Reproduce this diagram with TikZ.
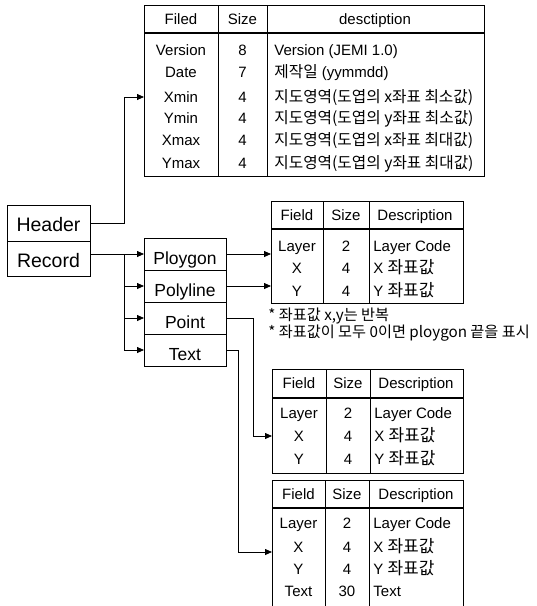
\documentclass[tikz,border=0pt]{standalone}
\usepackage{fontspec}
\setmainfont{Liberation Sans}
\newfontfamily\kr{Noto Sans CJK KR}
\usetikzlibrary{arrows.meta,calc}
\newcommand{\krA}{\kr\fontsize{15.7}{17}\selectfont}
\newcommand{\krB}{\kr\fontsize{17}{19}\selectfont}
\begin{document}
\begin{tikzpicture}[x=1pt,y=-1pt,
  line width=0.8pt,
  frame/.style={draw, inner sep=0pt, outer sep=0pt, anchor=north west},
  box/.style={draw, inner sep=0pt, outer sep=0pt},
  bigbox/.style={box, font=\fontsize{19.5}{22}\selectfont, text height=21pt, text depth=4pt},
  kindbox/.style={box, font=\fontsize{17.5}{19}\selectfont, text height=24.5pt, text depth=4pt,
    minimum width=82pt, minimum height=32pt},
  cell/.style={inner sep=0pt, text height=1.45ex, text depth=0.35ex, yshift=-2.5pt},
  lcell/.style={cell, anchor=west},
  arr/.style={-{Triangle[length=7pt,width=6pt]}},
  hline/.style={line width=1.1pt},
  tsmall/.style={font=\fontsize{15}{17}\selectfont},
  tmid/.style={font=\fontsize{15}{17}\selectfont},
]
\useasboundingbox (0,0) rectangle (537,606);

% ---------- header table ----------
\node[frame, minimum width=340pt, minimum height=171pt] (t1) at (144,5) {};
\draw[hline] (144,33) -- (484,33);
\draw (218,5) -- (218,176) (267,5) -- (267,176);
\begin{scope}[tsmall]
\node[cell] (t1hf) at (181,19) {Filed};
\node[cell] (t1hs) at (242.5,19) {Size};
\node[cell] (t1hd) at (375,19) {desctiption};
\node[cell] (t1f1) at (181,50) {Version};
\node[cell] (t1s1) at (242.5,50) {8};
\node[lcell] (t1d1) at (274,50) {Version (JEMI 1.0)};
\node[cell] (t1f2) at (181,72) {Date};
\node[cell] (t1s2) at (242.5,72) {7};
\node[lcell] (t1d2) at (274,72) {{\krA 제작일} (yymmdd)};
\node[cell] (t1f3) at (181,97) {Xmin};
\node[cell] (t1s3) at (242.5,97) {4};
\node[lcell] (t1d3) at (274,97) {\krA 지도영역(도엽의 x좌표 최소값)};
\node[cell] (t1f4) at (181,118) {Ymin};
\node[cell] (t1s4) at (242.5,118) {4};
\node[lcell] (t1d4) at (274,118) {\krA 지도영역(도엽의 y좌표 최소값)};
\node[cell] (t1f5) at (181,140) {Xmax};
\node[cell] (t1s5) at (242.5,140) {4};
\node[lcell] (t1d5) at (274,140) {\krA 지도영역(도엽의 x좌표 최대값)};
\node[cell] (t1f6) at (181,163) {Ymax};
\node[cell] (t1s6) at (242.5,163) {4};
\node[lcell] (t1d6) at (274,163) {\krA 지도영역(도엽의 y좌표 최대값)};
\end{scope}

% ---------- file parts ----------
\node[bigbox, minimum width=83pt, minimum height=36pt] (hdr) at (48.5,223) {Header};
\node[bigbox, minimum width=83pt, minimum height=35pt] (rec) at (48.5,258.5) {Record};

% ---------- record types ----------
\node[kindbox] (ploy) at (185,254) {Ploygon};
\node[kindbox] (polyl) at (185,286) {Polyline};
\node[kindbox] (pt) at (185,318) {Point};
\node[kindbox] (txt) at (185,350) {Text};

% ---------- polygon / polyline table ----------
\node[frame, minimum width=192pt, minimum height=102pt] (t2) at (271,201) {};
\draw[hline] (271,229) -- (463,229);
\draw (323,201) -- (323,303) (369,201) -- (369,303);
\begin{scope}[tmid]
\node[cell] (t2hf) at (297,215) {Field};
\node[cell] (t2hs) at (346,215) {Size};
\node[cell] (t2hd) at (415,215) {Description};
\node[cell] (t2f1) at (297,246) {Layer};
\node[cell] (t2s1) at (346,246) {2};
\node[lcell] (t2d1) at (373,246) {Layer Code};
\node[cell] (t2f2) at (297,268) {X};
\node[cell] (t2s2) at (346,268) {4};
\node[lcell] (t2d2) at (373,268) {X {\krB 좌표값}};
\node[cell] (t2f3) at (297,291) {Y};
\node[cell] (t2s3) at (346,291) {4};
\node[lcell] (t2d3) at (373,291) {Y {\krB 좌표값}};
\end{scope}
\begin{scope}[font=\kr\fontsize{15.2}{17}\selectfont]
\node[lcell] (note1) at (268,315) {* 좌표값 x,y는 반복};
\node[lcell] (note2) at (268,332) {* 좌표값이 모두 0이면 ploygon 끝을 표시};
\end{scope}

% ---------- point table ----------
\node[frame, minimum width=191pt, minimum height=104pt] (t3) at (272,369) {};
\draw[hline] (272,398) -- (463,398);
\draw (326,369) -- (326,473) (370,369) -- (370,473);
\begin{scope}[tmid]
\node[cell] (t3hf) at (299,383) {Field};
\node[cell] (t3hs) at (348,383) {Size};
\node[cell] (t3hd) at (416,383) {Description};
\node[cell] (t3f1) at (299,413) {Layer};
\node[cell] (t3s1) at (348,413) {2};
\node[lcell] (t3d1) at (374,413) {Layer Code};
\node[cell] (t3f2) at (299,436) {X};
\node[cell] (t3s2) at (348,436) {4};
\node[lcell] (t3d2) at (374,436) {X {\krB 좌표값}};
\node[cell] (t3f3) at (299,459) {Y};
\node[cell] (t3s3) at (348,459) {4};
\node[lcell] (t3d3) at (374,459) {Y {\krB 좌표값}};
\end{scope}

% ---------- text table ----------
\node[frame, minimum width=191pt, minimum height=140pt] (t4) at (272,480) {};
\draw[hline] (272,508) -- (463,508);
\draw (325,480) -- (325,620) (369,480) -- (369,620);
\begin{scope}[tmid]
\node[cell] (t4hf) at (298.5,494) {Field};
\node[cell] (t4hs) at (347,494) {Size};
\node[cell] (t4hd) at (416,494) {Description};
\node[cell] (t4f1) at (298.5,523) {Layer};
\node[cell] (t4s1) at (347,523) {2};
\node[lcell] (t4d1) at (373,523) {Layer Code};
\node[cell] (t4f2) at (298.5,547) {X};
\node[cell] (t4s2) at (347,547) {4};
\node[lcell] (t4d2) at (373,547) {X {\krB 좌표값}};
\node[cell] (t4f3) at (298.5,569) {Y};
\node[cell] (t4s3) at (347,569) {4};
\node[lcell] (t4d3) at (373,569) {Y {\krB 좌표값}};
\node[cell] (t4f4) at (298.5,591) {Text};
\node[cell] (t4s4) at (347,591) {30};
\node[lcell] (t4d4) at (373,591) {Text};
\end{scope}

% ---------- connectors ----------
\coordinate (t1in) at (t1.west |- 0,97);
\draw[arr] (hdr.east) -- ++(34,0) |- (t1in);
\path (rec.east |- ploy.west) ++(34,0) coordinate (trunk);
\draw[arr] (rec.east |- ploy.west) -- (ploy.west);
\draw[arr] (trunk) |- (txt.west);
\draw[arr] (trunk |- polyl.west) -- (polyl.west);
\draw[arr] (trunk |- pt.west) -- (pt.west);
\draw[arr] (ploy.east) -- (ploy.east -| t2.west);
\draw[arr] (polyl.east) -- (polyl.east -| t2.west);
\coordinate (t3in) at (t3.west |- 0,436);
\draw[arr] (pt.east) -- ++(27,0) |- (t3in);
\coordinate (t4in) at (t4.west |- 0,552);
\draw[arr] (txt.east) -- ++(12,0) |- (t4in);
\end{tikzpicture}
\end{document}
